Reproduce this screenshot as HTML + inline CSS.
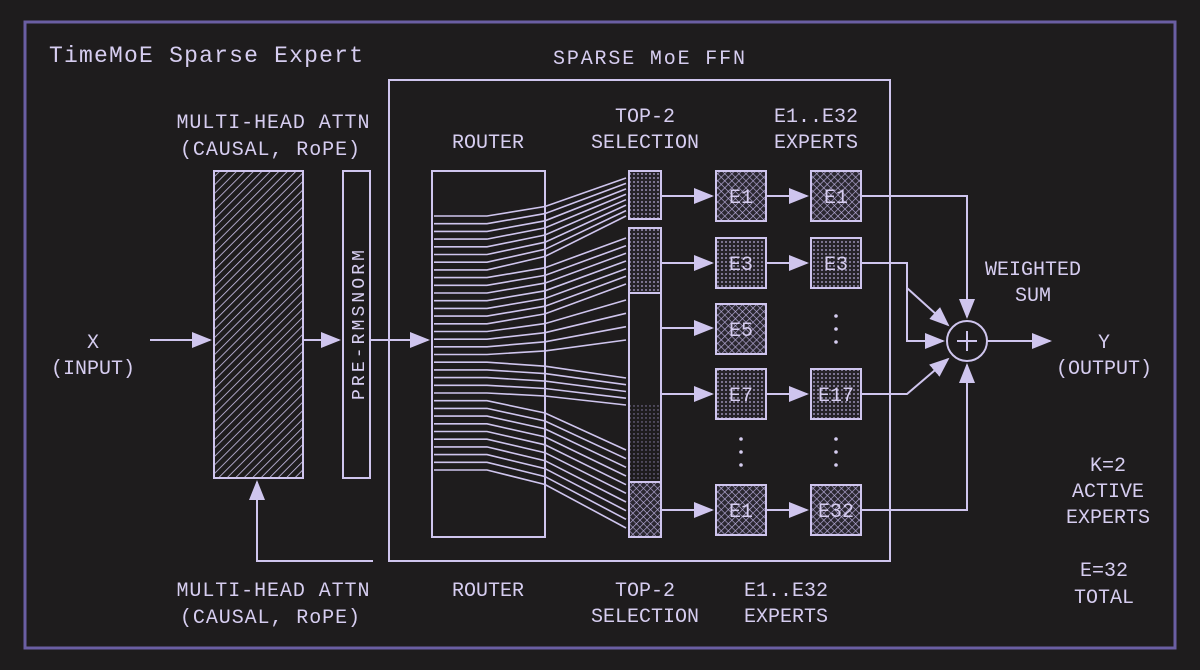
<!DOCTYPE html>
<html><head><meta charset="utf-8"><style>
html,body{margin:0;padding:0;background:#1e1c1d;}
svg{display:block}
text{font-family:"Liberation Mono","DejaVu Sans Mono",monospace;fill:#d6cdf0;}
</style></head><body>
<svg width="1200" height="670" viewBox="0 0 1200 670" xmlns="http://www.w3.org/2000/svg">
<defs>
<pattern id="hatch" width="6" height="6" patternUnits="userSpaceOnUse" patternTransform="rotate(45)">
<rect width="6" height="6" fill="#1e1c1d"/><line x1="0" y1="0" x2="0" y2="6" stroke="#cfc5ee" stroke-width="1.6"/></pattern>
<pattern id="cross" width="5" height="5" patternUnits="userSpaceOnUse" patternTransform="rotate(45)">
<rect width="5" height="5" fill="#2a2730"/><path d="M0 0H5M0 0V5" stroke="#b9aedb" stroke-width="1.3"/></pattern>
<pattern id="dots" width="4" height="4" patternUnits="userSpaceOnUse">
<rect width="4" height="4" fill="#262328"/><circle cx="2" cy="2" r="0.9" fill="#b9aedb"/></pattern>
<pattern id="dots2" width="4" height="4" patternUnits="userSpaceOnUse">
<rect width="4" height="4" fill="#1e1c1d"/><circle cx="2" cy="2" r="0.7" fill="#8f85b0"/></pattern>
<marker id="ahb" viewBox="0 0 10 10" refX="9" refY="5" markerWidth="20" markerHeight="20" markerUnits="userSpaceOnUse" orient="auto">
<path d="M0 1L10 5L0 9z" fill="#cfc5ee"/></marker>
</defs>
<rect x="25" y="22" width="1150" height="626" fill="none" stroke="#6a5ea3" stroke-width="3"/>
<text x="49" y="62" font-size="23" textLength="314">TimeMoE Sparse Expert</text>
<text x="273" y="128" font-size="20" text-anchor="middle" textLength="193">MULTI-HEAD ATTN</text>
<text x="270" y="155" font-size="20" text-anchor="middle" textLength="180">(CAUSAL, RoPE)</text>
<text x="649" y="64" font-size="20" text-anchor="middle" textLength="192">SPARSE MoE FFN</text>
<text x="488" y="148" font-size="20" text-anchor="middle">ROUTER</text>
<text x="645" y="122" font-size="20" text-anchor="middle">TOP-2</text>
<text x="645" y="148" font-size="20" text-anchor="middle">SELECTION</text>
<text x="816" y="122" font-size="20" text-anchor="middle">E1..E32</text>
<text x="816" y="148" font-size="20" text-anchor="middle">EXPERTS</text>
<text x="93" y="348" font-size="20" text-anchor="middle">X</text>
<text x="93" y="374" font-size="20" text-anchor="middle">(INPUT)</text>
<text x="1104" y="348" font-size="20" text-anchor="middle">Y</text>
<text x="1104" y="374" font-size="20" text-anchor="middle">(OUTPUT)</text>
<text x="1033" y="275" font-size="20" text-anchor="middle">WEIGHTED</text>
<text x="1033" y="301" font-size="20" text-anchor="middle">SUM</text>
<text x="1108" y="471" font-size="20" text-anchor="middle">K=2</text>
<text x="1108" y="497" font-size="20" text-anchor="middle">ACTIVE</text>
<text x="1108" y="523" font-size="20" text-anchor="middle">EXPERTS</text>
<text x="1104" y="576" font-size="20" text-anchor="middle">E=32</text>
<text x="1104" y="603" font-size="20" text-anchor="middle">TOTAL</text>
<text x="273" y="596" font-size="20" text-anchor="middle" textLength="193">MULTI-HEAD ATTN</text>
<text x="270" y="623" font-size="20" text-anchor="middle" textLength="180">(CAUSAL, RoPE)</text>
<text x="488" y="596" font-size="20" text-anchor="middle">ROUTER</text>
<text x="645" y="596" font-size="20" text-anchor="middle">TOP-2</text>
<text x="645" y="622" font-size="20" text-anchor="middle">SELECTION</text>
<text x="786" y="596" font-size="20" text-anchor="middle">E1..E32</text>
<text x="786" y="622" font-size="20" text-anchor="middle">EXPERTS</text>

<g stroke="#cfc5ee" stroke-width="2" fill="none">
<rect x="389" y="80" width="501" height="481"/>
<rect x="214" y="171" width="89" height="307" fill="url(#hatch)"/>
<rect x="343" y="171" width="27" height="307"/>
<rect x="432" y="171" width="113" height="366"/>
<path d="M150 340H210" marker-end="url(#ahb)"/>
<path d="M303 340H339" marker-end="url(#ahb)"/>
<path d="M370 340H428" marker-end="url(#ahb)"/>
<path d="M373 561H257V482" marker-end="url(#ahb)"/>
<rect x="629" y="171" width="32" height="48" fill="url(#dots)"/>
<rect x="629" y="228" width="32" height="309"/>
<rect x="630" y="229" width="30" height="64" fill="url(#dots)" stroke="none"/>
<rect x="630" y="405" width="30" height="77" fill="url(#dots2)" stroke="none"/>
<rect x="630" y="482" width="30" height="54" fill="url(#cross)" stroke="none"/>
<line x1="629" y1="293" x2="661" y2="293"/><line x1="629" y1="482" x2="661" y2="482"/>
<path d="M661 196H712" marker-end="url(#ahb)"/>
<path d="M661 263H712" marker-end="url(#ahb)"/>
<path d="M661 328H712" marker-end="url(#ahb)"/>
<path d="M661 394H712" marker-end="url(#ahb)"/>
<path d="M661 510H712" marker-end="url(#ahb)"/>
<path d="M766 196H807" marker-end="url(#ahb)"/>
<path d="M766 263H807" marker-end="url(#ahb)"/>
<path d="M766 394H807" marker-end="url(#ahb)"/>
<path d="M766 510H807" marker-end="url(#ahb)"/>
<rect x="716" y="171" width="50" height="50" fill="url(#cross)"/>
<rect x="716" y="238" width="50" height="50" fill="url(#dots)"/>
<rect x="716" y="304" width="50" height="50" fill="url(#cross)"/>
<rect x="716" y="369" width="50" height="50" fill="url(#dots)"/>
<rect x="716" y="485" width="50" height="50" fill="url(#cross)"/>
<rect x="811" y="171" width="50" height="50" fill="url(#cross)"/>
<rect x="811" y="238" width="50" height="50" fill="url(#dots)"/>
<rect x="811" y="369" width="50" height="50" fill="url(#dots)"/>
<rect x="811" y="485" width="50" height="50" fill="url(#cross)"/>
<circle cx="967" cy="341" r="20"/>
<path d="M957 341H977M967 331V351"/>
<path d="M861 196H967V317" marker-end="url(#ahb)"/>
<path d="M861 263H907V341H943" marker-end="url(#ahb)"/>
<path d="M907 288L948 325" marker-end="url(#ahb)"/>
<path d="M861 394H907L948 359" marker-end="url(#ahb)"/>
<path d="M861 510H967V365" marker-end="url(#ahb)"/>
<path d="M987 341H1050" marker-end="url(#ahb)"/>
</g>
<g stroke="#cfc5ee" stroke-width="1.6" fill="none">
<path d="M434 216H487L545 206.5L626 178"/>
<path d="M434 223.7H487L545 213.6L626 183.4"/>
<path d="M434 231.4H487L545 220.8L626 188.9"/>
<path d="M434 239.1H487L545 227.9L626 194.3"/>
<path d="M434 246.8H487L545 235L626 199.7"/>
<path d="M434 254.5H487L545 242.2L626 205.1"/>
<path d="M434 262.2H487L545 249.3L626 210.6"/>
<path d="M434 269.9H487L545 256.4L626 216"/>
<path d="M434 277.6H487L545 267.7L626 238"/>
<path d="M434 285.3H487L545 275.4L626 245.7"/>
<path d="M434 293H487L545 283.1L626 253.3"/>
<path d="M434 300.7H487L545 290.8L626 261"/>
<path d="M434 308.4H487L545 298.5L626 268.7"/>
<path d="M434 316.1H487L545 306.2L626 276.3"/>
<path d="M434 323.8H487L545 313.9L626 284"/>
<path d="M434 331.5H487L545 323.6L626 300"/>
<path d="M434 339.2H487L545 332.7L626 313.3"/>
<path d="M434 346.8H487L545 341.8L626 326.7"/>
<path d="M434 354.5H487L545 350.9L626 340"/>
<path d="M434 362.2H487L545 366.2L626 378"/>
<path d="M434 369.9H487L545 373.6L626 384.7"/>
<path d="M434 377.6H487L545 381.1L626 391.5"/>
<path d="M434 385.3H487L545 388.5L626 398.2"/>
<path d="M434 393H487L545 396L626 405"/>
<path d="M434 400.7H487L545 413L626 450"/>
<path d="M434 408.4H487L545 421L626 458.7"/>
<path d="M434 416.1H487L545 428.9L626 467.3"/>
<path d="M434 423.8H487L545 436.9L626 476"/>
<path d="M434 431.5H487L545 444.8L626 484.7"/>
<path d="M434 439.2H487L545 452.7L626 493.3"/>
<path d="M434 446.9H487L545 460.7L626 502"/>
<path d="M434 454.6H487L545 468.6L626 510.7"/>
<path d="M434 462.3H487L545 476.6L626 519.3"/>
<path d="M434 470H487L545 484.5L626 528"/>
</g>
<g font-size="20" text-anchor="middle">
<text x="741" y="203">E1</text><text x="741" y="270">E3</text><text x="741" y="336">E5</text>
<text x="741" y="401">E7</text><text x="741" y="517">E1</text>
<text x="836" y="203">E1</text><text x="836" y="270">E3</text>
<text x="836" y="401">E17</text><text x="836" y="517">E32</text>
</g>
<g fill="#d6cdf0">
<circle cx="836" cy="316" r="1.8"/><circle cx="836" cy="329" r="1.8"/><circle cx="836" cy="342" r="1.8"/>
<circle cx="741" cy="439" r="1.8"/><circle cx="741" cy="452" r="1.8"/><circle cx="741" cy="465" r="1.8"/>
<circle cx="836" cy="439" r="1.8"/><circle cx="836" cy="452" r="1.8"/><circle cx="836" cy="465" r="1.8"/>
</g>
<text x="364" y="325" font-size="18" text-anchor="middle" transform="rotate(-90 364 325)" textLength="150">PRE-RMSNORM</text>
</svg>
</body></html>
